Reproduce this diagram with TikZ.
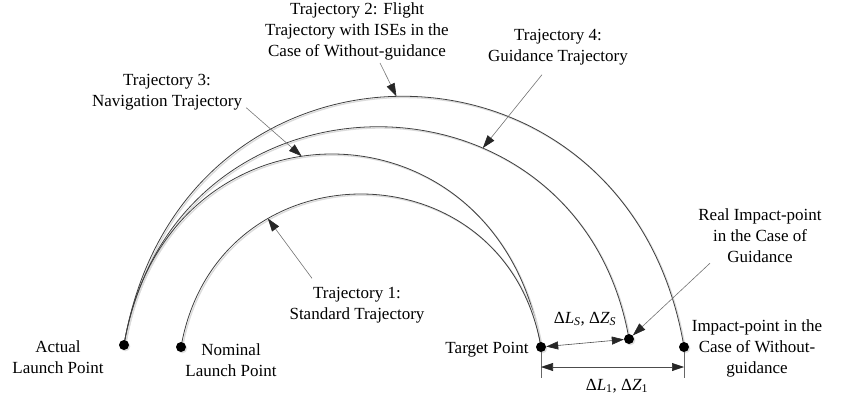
\documentclass[tikz,border=0pt]{standalone}
\usepackage{fontspec}
\setmainfont{Liberation Serif}
\usetikzlibrary{arrows.meta,shadows}
\begin{document}
\begin{tikzpicture}[x=1pt,y=-1pt,
  traj/.style={draw=black!75, line width=0.8pt,
    preaction={draw=black!14, line width=1.3pt, transform canvas={shift={(1.3pt,-1.3pt)}}}},
  ptr/.style={draw=black!55, line width=0.6pt, -{Triangle[length=13pt,width=8.5pt,color=black!85]}},
  dim/.style={draw=black!70, line width=0.6pt, {Triangle[length=12pt,width=8pt,color=black!85]}-{Triangle[length=12pt,width=8pt,color=black!85]}},
  ext/.style={draw=black!60, line width=0.6pt},
  dot/.style={circle, fill=black, inner sep=0pt, minimum size=10pt,
    drop shadow={shadow xshift=1.3pt, shadow yshift=-1.3pt, fill=black!25}},
  lbl/.style={font=\fontsize{17}{21}\selectfont, align=center, inner sep=0pt},
]
\useasboundingbox (0,0) rectangle (853,402);

% trajectories
\path[traj] (124,345) .. controls (180,12) and (628,14) .. (684,347) coordinate[pos=0.49] (p2);
\path[traj] (124,345) .. controls (174,55) and (579,55) .. (629,339) coordinate[pos=0.66] (p4);
\path[traj] (124,345) .. controls (166,90) and (499,90) .. (541,347) coordinate[pos=0.445] (p3);
\path[traj] (181,347) .. controls (217,143) and (505,143) .. (541,347) coordinate[pos=0.3] (p1);

% points
\node[dot] (AL) at (124,345) {};
\node[dot] (NL) at (181,347) {};
\node[dot] (TP) at (541,347) {};
\node[dot] (RI) at (629,339) {};
\node[dot] (IW) at (684,347) {};

% labels
\node[lbl] (T2) at (357,31) {Trajectory 2: Flight\\Trajectory with ISEs in the\\Case of Without-guidance};
\node[lbl] (T3) at (167,92.5) {Trajectory 3:\\Navigation Trajectory};
\node[lbl] (T4) at (558,47.5) {Trajectory 4:\\Guidance Trajectory};
\node[lbl] (T1) at (357,305.5) {Trajectory 1:\\Standard Trajectory};
\node[lbl] (ALL) at (58,357.5) {Actual\\Launch Point};
\node[lbl] (NLL) at (231,360.5) {Nominal\\Launch Point};
\node[lbl] (TPL) at (487,350) {Target Point};
\node[lbl] (RIL) at (760,236) {Real Impact-point\\in the Case of\\Guidance};
\node[lbl] (IWL) at (757,348) {Impact-point in the\\Case of Without-\\guidance};
\node[lbl] (DS) at (585,319) {Δ\textit{L}\textsubscript{\textit{S}}, Δ\textit{Z}\textsubscript{\textit{S}}};
\node[lbl] (D1) at (617,386) {Δ\textit{L}\textsubscript{1}, Δ\textit{Z}\textsubscript{1}};

% pointer arrows
\draw[ptr] ([xshift=23pt,yshift=-3pt]T2.south) -- (p2);
\draw[ptr] ([xshift=4pt,yshift=3pt]T3.south east) -- (p3);
\draw[ptr] ([xshift=-16pt,yshift=-9pt]T4.south) -- (p4);
\draw[ptr] ([xshift=-45pt,yshift=9pt]T1.north) -- (p1);
\draw[ptr] ([xshift=-50pt]RIL.south) -- (RI);

% deviations
\draw[dim] (TP) -- (RI);
\coordinate (TPd) at (541,378);
\coordinate (IWd) at (684,378);
\coordinate (TPm) at (541,367);
\coordinate (IWm) at (684,367);
\draw[ext] (TP) -- (TPd);
\draw[ext] (IW) -- (IWd);
\draw[dim] (TPm) -- (IWm);
\end{tikzpicture}
\end{document}
